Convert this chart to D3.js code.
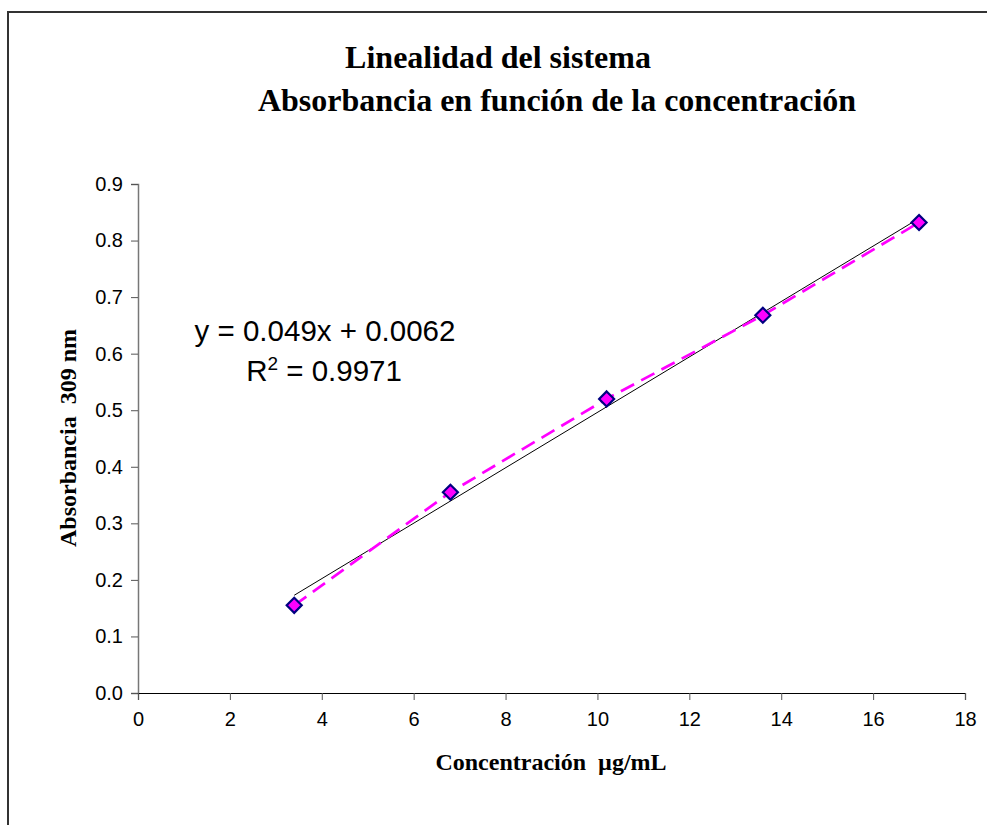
<!DOCTYPE html>
<html>
<head>
<meta charset="utf-8">
<script src="https://cdn.jsdelivr.net/npm/d3@7"></script>
<style>
  html, body { margin: 0; padding: 0; background: #fff; }
  svg { display: block; }
</style>
</head>
<body>
<svg id="chart" width="987" height="825"></svg>
<script>
// ---- data ----
const concentrations = [3.4, 6.8, 10.2, 13.6, 17];
const absorbances = [0.155, 0.355, 0.52, 0.668, 0.832];
const xTicks = [0, 2, 4, 6, 8, 10, 12, 14, 16, 18];
const yTicks = [0, 0.1, 0.2, 0.3, 0.4, 0.5, 0.6, 0.7, 0.8, 0.9];
const trendSlope = 0.049;
const trendIntercept = 0.0062;
const titleLines = ["Linealidad del sistema", "Absorbancia en función de la concentración"];
const xLabel = "Concentración  µg/mL";
const yLabel = "Absorbancia  309 nm";
const eqText = "y = 0.049x + 0.0062";
const r2Value = "0.9971";

(function () {
const svg = d3.select("#chart");

// outer frame
svg.append("rect")
  .attr("x", 8).attr("y", 12)
  .attr("width", 1000).attr("height", 840)
  .attr("fill", "#fff").attr("stroke", "#333").attr("stroke-width", 2);

const pL = 138, pR = 965, pT = 184, pB = 693;
const x = d3.scaleLinear().domain([0, 18]).range([pL, pR]);
const y = d3.scaleLinear().domain([0, 0.9]).range([pB, pT]);

const af = "Liberation Sans, Arial, sans-serif";
const tf = "Liberation Serif, 'Times New Roman', serif";

// axes
const yAxis = d3.axisLeft(y).tickValues(yTicks).tickFormat(d3.format(".1f")).tickSize(7).tickPadding(8);
const xAxis = d3.axisBottom(x).tickValues(xTicks).tickFormat(d3.format("d")).tickSize(7).tickPadding(12);

const gy = svg.append("g").attr("transform", `translate(${pL},0)`).call(yAxis);
gy.attr("font-family", af).attr("font-size", 20);
gy.select(".domain").attr("stroke", "#777").attr("stroke-width", 1.5);
gy.selectAll(".tick line").attr("stroke", "#555");
gy.selectAll(".tick text").attr("fill", "#000");

const gx = svg.append("g").attr("transform", `translate(0,${pB})`).call(xAxis);
gx.attr("font-family", af).attr("font-size", 20);
gx.select(".domain").attr("stroke", "#000").attr("stroke-width", 1.2);
gx.selectAll(".tick line").attr("stroke", "#555");
gx.selectAll(".tick text").attr("fill", "#000");

// trend line (solid black)
const x0 = concentrations[0], x1 = concentrations[concentrations.length - 1];
svg.append("line")
  .attr("x1", x(x0)).attr("y1", y(trendSlope * x0 + trendIntercept))
  .attr("x2", x(x1)).attr("y2", y(trendSlope * x1 + trendIntercept))
  .attr("stroke", "#000").attr("stroke-width", 1);

// dashed series line
const pts = concentrations.map((c, i) => [c, absorbances[i]]);
svg.append("path")
  .datum(pts)
  .attr("d", d3.line().x(d => x(d[0])).y(d => y(d[1])))
  .attr("fill", "none")
  .attr("stroke", "#FF00FF")
  .attr("stroke-width", 2.7)
  .attr("stroke-dasharray", "15,8");

// markers (diamonds)
svg.append("g").selectAll("path")
  .data(pts)
  .join("path")
  .attr("transform", d => `translate(${x(d[0])},${y(d[1])})`)
  .attr("d", "M0,-7.5L7.5,0L0,7.5L-7.5,0Z")
  .attr("fill", "#FF00FF")
  .attr("stroke", "#000080")
  .attr("stroke-width", 2.2);

// titles
svg.append("text").attr("x", 498).attr("y", 68)
  .attr("text-anchor", "middle").attr("font-family", tf).attr("font-weight", "bold").attr("font-size", 32)
  .text(titleLines[0]);
svg.append("text").attr("x", 557).attr("y", 111)
  .attr("text-anchor", "middle").attr("font-family", tf).attr("font-weight", "bold").attr("font-size", 32)
  .text(titleLines[1]);

// axis labels
svg.append("text").attr("x", 551).attr("y", 770)
  .attr("text-anchor", "middle").attr("font-family", tf).attr("font-weight", "bold").attr("font-size", 24)
  .style("white-space", "pre")
  .text(xLabel);
svg.append("text")
  .attr("transform", "translate(76,438) rotate(-90)")
  .attr("text-anchor", "middle").attr("font-family", tf).attr("font-weight", "bold").attr("font-size", 24)
  .style("white-space", "pre")
  .text(yLabel);

// equation
svg.append("text").attr("x", 325).attr("y", 341)
  .attr("text-anchor", "middle").attr("font-family", af).attr("font-size", 29.5)
  .text(eqText);
const r2 = svg.append("text").attr("x", 324).attr("y", 381)
  .attr("text-anchor", "middle").attr("font-family", af).attr("font-size", 29.5);
r2.append("tspan").text("R");
r2.append("tspan").attr("dy", -11).attr("font-size", 19).text("2");
r2.append("tspan").attr("dy", 11).text(" = " + r2Value);
})();
</script>
</body>
</html>
